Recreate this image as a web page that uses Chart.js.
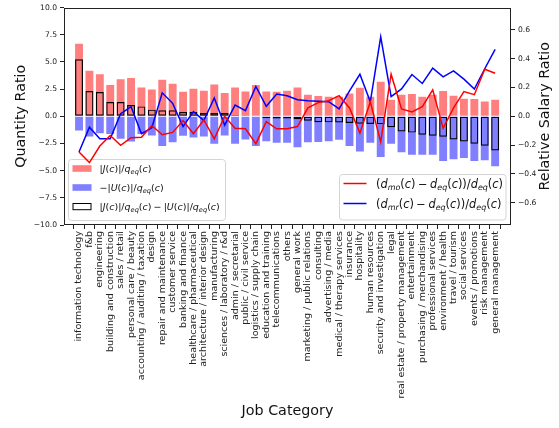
<!DOCTYPE html>
<html>
<head>
<meta charset="utf-8">
<script src="https://cdn.jsdelivr.net/npm/chart.js@4.4.1/dist/chart.umd.min.js"></script>
<style>
  html, body { margin: 0; padding: 0; background: #ffffff; }
  #chart { display: block; }
</style>
</head>
<body>
<canvas id="chart" width="559" height="428"></canvas>
<script>
// Job categories, sorted by net quantity ratio
const categories = [
  'information technology', 'f&b', 'engineering', 'building and construction',
  'sales / retail', 'personal care / beauty', 'accounting / auditing / taxation',
  'design', 'repair and maintenance', 'customer service', 'banking and finance',
  'healthcare / pharmaceutical', 'architecture / interior design', 'manufacturing',
  'sciences / laboratory / r&d', 'admin / secretarial', 'public / civil service',
  'logistics / supply chain', 'education and training', 'telecommunications',
  'others', 'general work', 'marketing / public relations', 'consulting',
  'advertising / media', 'medical / therapy services', 'insurance', 'hospitality',
  'human resources', 'security and investigation', 'legal',
  'real estate / property management', 'entertainment', 'purchasing / merchandising',
  'professional services', 'environment / health', 'travel / tourism',
  'social services', 'events / promotions', 'risk management', 'general management'
];

// |J(c)| / q_eq(c)
const jRatio = [
  6.68, 4.18, 3.87, 2.87, 3.41, 3.51, 2.65, 2.47, 3.35, 3.00, 2.26,
  2.53, 2.35, 2.93, 2.13, 2.65, 2.29, 2.87, 2.29, 2.26, 2.35, 2.65,
  1.98, 1.86, 1.80, 1.80, 2.10, 2.62, 1.80, 3.17, 1.52, 1.98, 2.04,
  1.80, 1.98, 2.32, 1.89, 1.62, 1.59, 1.37, 1.52
];

// -|U(c)| / q_eq(c)
const uRatio = [
  -1.31, -1.86, -1.55, -1.62, -2.07, -2.32, -1.62, -1.77, -2.74, -2.40, -1.80,
  -1.95, -1.85, -2.53, -1.77, -2.53, -2.13, -2.74, -2.29, -2.44, -2.44, -2.84,
  -2.38, -2.36, -2.29, -2.16, -2.74, -3.23, -2.44, -3.75, -2.53, -3.30, -3.54,
  -3.54, -3.54, -4.12, -3.96, -3.84, -4.12, -4.05, -4.60
];

// |J(c)|/q_eq(c) - |U(c)|/q_eq(c)
const netRatio = [
  5.24, 2.32, 2.23, 1.31, 1.31, 1.04, 0.91, 0.61, 0.56, 0.56, 0.40,
  0.40, 0.30, 0.30, 0.30, 0.10, 0.07, 0.04, -0.18, -0.20, -0.20, -0.27,
  -0.40, -0.55, -0.56, -0.57, -0.62, -0.68, -0.70, -0.72, -1.00, -1.40, -1.50,
  -1.70, -1.78, -1.88, -2.13, -2.32, -2.53, -2.70, -3.14
];

// (d_mo(c) - d_eq(c)) / d_eq(c)
const dmoRatio = [
  -0.248, -0.322, -0.207, -0.133, -0.202, -0.149, -0.145, -0.064, -0.128, -0.112, -0.030,
  -0.121, -0.025, -0.156, 0.000, -0.083, -0.087, -0.190, -0.037, -0.087, -0.087, -0.071,
  0.058, 0.095, 0.108, 0.143, 0.058, -0.117, 0.100, -0.179, 0.292, 0.051, 0.030,
  0.067, 0.184, -0.083, 0.058, 0.172, 0.150, 0.327, 0.299
];

// (d_mr(c) - d_eq(c)) / d_eq(c)
const dmrRatio = [
  -0.248, -0.076, -0.156, -0.156, 0.017, 0.067, -0.121, -0.080, 0.163, 0.090, -0.071,
  0.032, -0.030, 0.127, -0.062, 0.078, 0.039, 0.207, 0.069, 0.154, 0.143, 0.115,
  0.108, 0.105, 0.101, 0.051, 0.177, 0.292, 0.100, 0.552, 0.136, 0.190, 0.290,
  0.228, 0.334, 0.274, 0.315, 0.258, 0.189, 0.330, 0.465
];

const quantityTicks = [10, 7.5, 5, 2.5, 0, -2.5, -5, -7.5, -10];
const salaryTicks = [0.6, 0.4, 0.2, 0, -0.2, -0.4, -0.6];

const barLegendLabels = ['|J(c)|/q_{eq}(c)', '−|U(c)|/q_{eq}(c)', '|J(c)|/q_{eq}(c)−|U(c)|/q_{eq}(c)'];
const lineLegendLabels = ['(d_{mo}(c)−d_{eq}(c))/d_{eq}(c)', '(d_{mr}(c)−d_{eq}(c))/d_{eq}(c)'];

const FONT = '"DejaVu Sans", "Liberation Sans", sans-serif';
const RED_FILL = 'rgba(255,0,0,0.5)';
const BLUE_FILL = 'rgba(0,0,255,0.5)';

const toPoints = arr => arr.map((v, i) => ({ x: i, y: v }));
const fmt = v => v.toFixed(1).replace('-', '\u2212');

// Tiny math-text renderer: letters italic, "_{..}" subscripts, spaced binary minus
function mathRuns(src) {
  const runs = [];
  let i = 0;
  while (i < src.length) {
    const ch = src[i];
    if (ch === '_' && src[i + 1] === '{') {
      const j = src.indexOf('}', i);
      runs.push({ t: src.slice(i + 2, j), it: true, sub: true });
      i = j + 1;
    } else if (/[A-Za-z]/.test(ch)) {
      runs.push({ t: ch, it: true });
      i++;
    } else if (ch === '\u2212') {
      runs.push({ t: ch, op: i > 0 });
      i++;
    } else {
      runs.push({ t: ch });
      i++;
    }
  }
  return runs;
}

function drawMath(ctx, src, x, yBase, size) {
  ctx.save();
  ctx.textBaseline = 'alphabetic';
  ctx.textAlign = 'left';
  ctx.fillStyle = '#111';
  for (const r of mathRuns(src)) {
    const s = r.sub ? size * 0.7 : size;
    ctx.font = (r.it ? 'italic ' : '') + s + 'px ' + FONT;
    if (r.op) x += size * 0.22;
    ctx.fillText(r.t, x, r.sub ? yBase + size * 0.22 : yBase);
    x += ctx.measureText(r.t).width;
    if (r.op) x += size * 0.22;
  }
  ctx.restore();
}

function roundRect(ctx, x, y, w, h, r) {
  ctx.beginPath();
  ctx.moveTo(x + r, y);
  ctx.lineTo(x + w - r, y);
  ctx.arcTo(x + w, y, x + w, y + r, r);
  ctx.lineTo(x + w, y + h - r);
  ctx.arcTo(x + w, y + h, x + w - r, y + h, r);
  ctx.lineTo(x + r, y + h);
  ctx.arcTo(x, y + h, x, y + h - r, r);
  ctx.lineTo(x, y + r);
  ctx.arcTo(x, y, x + r, y, r);
  ctx.closePath();
}

function legendFrame(ctx, x, y, w, h) {
  ctx.save();
  roundRect(ctx, x + 0.5, y + 0.5, w, h, 3);
  ctx.fillStyle = 'rgba(255,255,255,0.8)';
  ctx.fill();
  ctx.strokeStyle = '#d4d4d4';
  ctx.lineWidth = 1;
  ctx.stroke();
  ctx.restore();
}

const decorPlugin = {
  id: 'decor',
  afterDatasetDraw(chart, args) {
    if (args.index !== 2) return;
    const ctx = chart.ctx;
    const a = chart.chartArea;
    // plot frame
    ctx.save();
    ctx.strokeStyle = '#222';
    ctx.lineWidth = 1;
    ctx.strokeRect(Math.round(a.left) + 0.5, Math.round(a.top) + 0.5,
                   Math.round(a.right - a.left) - 1, Math.round(a.bottom - a.top) - 1);
    ctx.restore();

    // bar legend (lower left)
    const lx = a.left + 4, ly = 159, size = 9.5;
    legendFrame(ctx, lx, ly, 157, 61);
    const fills = [RED_FILL, BLUE_FILL, null];
    barLegendLabels.forEach((lab, i) => {
      const cy = ly + 9.5 + i * 19;
      ctx.save();
      if (fills[i]) {
        ctx.fillStyle = fills[i];
        ctx.fillRect(lx + 4.5, cy - 3.3, 19, 6.6);
      } else {
        ctx.strokeStyle = '#000';
        ctx.lineWidth = 1;
        ctx.strokeRect(lx + 5, cy - 3, 18, 6.2);
      }
      ctx.restore();
      drawMath(ctx, lab, lx + 31.5, cy + 3.4, size);
    });
  },
  afterDatasetsDraw(chart) {
    const ctx = chart.ctx;
    // line legend (lower right)
    const lx = 339, ly = 174, size = 11.4;
    legendFrame(ctx, lx, ly, 166.5, 45.5);
    const colors = ['#ff0000', '#0000ff'];
    lineLegendLabels.forEach((lab, i) => {
      const cy = ly + 9.5 + i * 20;
      ctx.save();
      ctx.strokeStyle = colors[i];
      ctx.lineWidth = 1.5;
      ctx.beginPath();
      ctx.moveTo(lx + 4.5, cy);
      ctx.lineTo(lx + 27.5, cy);
      ctx.stroke();
      ctx.restore();
      drawMath(ctx, lab, lx + 37, cy + 4, size);
    });
  },
  afterDraw(chart) {
    const ctx = chart.ctx;
    const a = chart.chartArea;
    const midY = (a.top + a.bottom) / 2;
    ctx.save();
    ctx.fillStyle = '#111';
    ctx.font = '14.3px ' + FONT;
    ctx.textAlign = 'center';
    ctx.textBaseline = 'middle';
    ctx.fillText('Job Category', (a.left + a.right) / 2, 411);
    ctx.save();
    ctx.translate(21, midY);
    ctx.rotate(-Math.PI / 2);
    ctx.fillText('Quantity Ratio', 0, 0);
    ctx.restore();
    ctx.save();
    ctx.translate(545, midY);
    ctx.rotate(-Math.PI / 2);
    ctx.fillText('Relative Salary Ratio', 0, 0);
    ctx.restore();
    ctx.restore();
  }
};

const barCommon = {
  type: 'bar',
  yAxisID: 'y',
  grouped: false,
  barPercentage: 0.76,
  categoryPercentage: 1.0,
  borderWidth: 0
};

const lineCommon = {
  type: 'line',
  yAxisID: 'yR',
  borderWidth: 1.5,
  pointRadius: 0,
  tension: 0,
  fill: false
};

const tickFont = { family: FONT, size: 7.6 };

new Chart(document.getElementById('chart'), {
  data: {
    datasets: [
      Object.assign({}, lineCommon, { label: lineLegendLabels[0], data: toPoints(dmoRatio), borderColor: '#ff0000' }),
      Object.assign({}, lineCommon, { label: lineLegendLabels[1], data: toPoints(dmrRatio), borderColor: '#0000ff' }),
      Object.assign({}, barCommon, { label: barLegendLabels[2], data: toPoints(netRatio),
        backgroundColor: 'rgba(0,0,0,0)', borderColor: '#000', borderWidth: 1.2, borderSkipped: false }),
      Object.assign({}, barCommon, { label: barLegendLabels[1], data: toPoints(uRatio), backgroundColor: BLUE_FILL }),
      Object.assign({}, barCommon, { label: barLegendLabels[0], data: toPoints(jRatio), backgroundColor: RED_FILL })
    ]
  },
  options: {
    responsive: false,
    animation: false,
    devicePixelRatio: 1,
    layout: { padding: { top: 7, left: 0, right: 0, bottom: 0 } },
    plugins: { legend: { display: false }, tooltip: { enabled: false } },
    scales: {
      x: {
        type: 'linear',
        min: -0.92,
        max: 41.0,
        afterBuildTicks: s => { s.ticks = categories.map((_, i) => ({ value: i })); },
        afterFit: s => { s.height = 203; },
        ticks: {
          autoSkip: false,
          minRotation: 90,
          maxRotation: 90,
          padding: 2,
          color: '#222',
          font: { family: FONT, size: 9.5 },
          callback: v => categories[v]
        },
        grid: { drawOnChartArea: false, tickLength: 4, color: '#222' },
        border: { display: false }
      },
      y: {
        position: 'left',
        min: -10,
        max: 10,
        afterBuildTicks: s => { s.ticks = quantityTicks.map(v => ({ value: v })); },
        afterFit: s => { s.width = 64; },
        ticks: { padding: 3, color: '#222', font: tickFont, callback: v => fmt(v) },
        grid: { drawOnChartArea: false, tickLength: 4, color: '#222' },
        border: { display: false }
      },
      yR: {
        position: 'right',
        min: -0.755,
        max: 0.755,
        afterBuildTicks: s => { s.ticks = salaryTicks.map(v => ({ value: v })); },
        afterFit: s => { s.width = 48; },
        ticks: { padding: 3, color: '#222', font: tickFont, callback: v => fmt(v) },
        grid: { drawOnChartArea: false, tickLength: 4, color: '#222' },
        border: { display: false }
      }
    }
  },
  plugins: [decorPlugin]
});
</script>
</body>
</html>
